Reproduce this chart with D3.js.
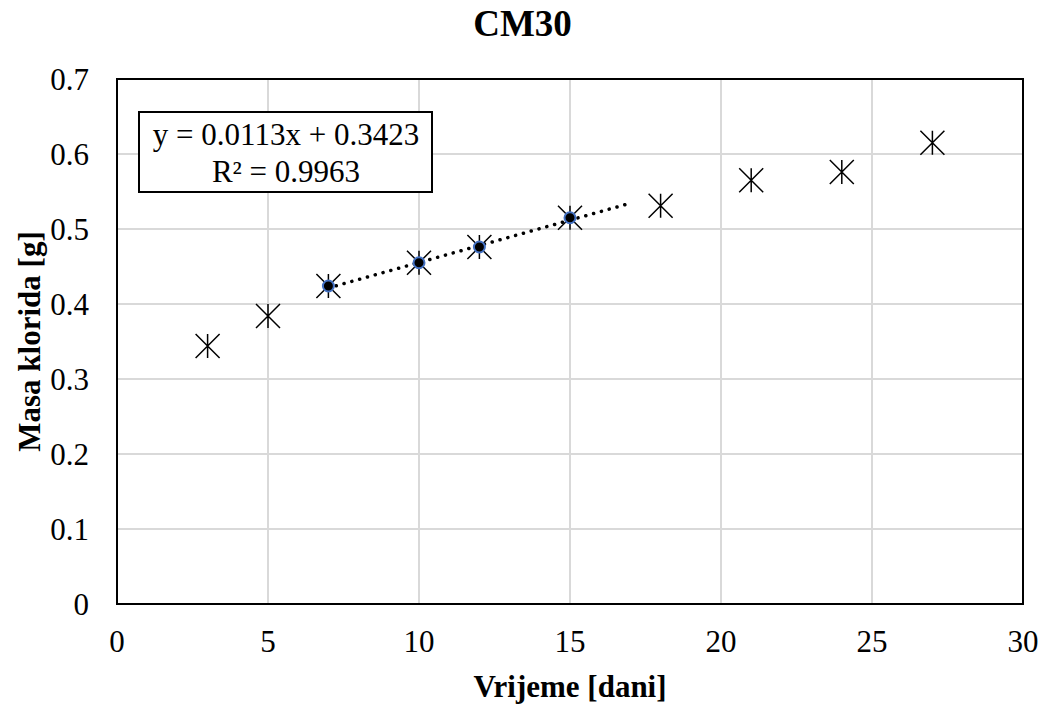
<!DOCTYPE html>
<html>
<head>
<meta charset="utf-8">
<script src="https://cdn.jsdelivr.net/npm/d3@7"></script>
<style>
  body { margin: 0; background: #fff; }
  text { font-family: "Liberation Serif", "Times New Roman", serif; fill: #000; }
</style>
</head>
<body>
<div id="chart"></div>
<script>
// measured data
const days = [3, 5, 7, 10, 12, 15, 18, 21, 24, 27];
const mass = [0.344, 0.384, 0.424, 0.455, 0.476, 0.515, 0.531, 0.565, 0.576, 0.615];
// subset used for the linear fit
const fitDays = [7, 10, 12, 15];
const fitMass = [0.424, 0.455, 0.476, 0.515];
const slope = 0.0113, intercept = 0.3423;
const trendRange = [7, 16.9];
const xTicks = [0, 5, 10, 15, 20, 25, 30];
const yTicks = [0, 0.1, 0.2, 0.3, 0.4, 0.5, 0.6, 0.7];

const width = 1045, height = 708;
const plot = { left: 117, right: 1023, top: 79, bottom: 604 };

const svg = d3.select('#chart').append('svg')
    .attr('width', width)
    .attr('height', height);

const x = d3.scaleLinear().domain([0, 30]).range([plot.left, plot.right]);
const y = d3.scaleLinear().domain([0, 0.7]).range([plot.bottom, plot.top]);

// gridlines
svg.append('g').selectAll('line').data(xTicks.slice(1, -1)).enter().append('line')
    .attr('x1', d => x(d)).attr('x2', d => x(d))
    .attr('y1', plot.top).attr('y2', plot.bottom)
    .attr('stroke', '#d9d9d9').attr('stroke-width', 2);
svg.append('g').selectAll('line').data(yTicks.slice(1, -1)).enter().append('line')
    .attr('x1', plot.left).attr('x2', plot.right)
    .attr('y1', d => y(d)).attr('y2', d => y(d))
    .attr('stroke', '#d9d9d9').attr('stroke-width', 2);

// plot frame
svg.append('rect')
    .attr('x', plot.left).attr('y', plot.top)
    .attr('width', plot.right - plot.left).attr('height', plot.bottom - plot.top)
    .attr('fill', 'none').attr('stroke', '#000').attr('stroke-width', 2);

// tick labels
svg.append('g').selectAll('text').data(xTicks).enter().append('text')
    .attr('x', d => x(d)).attr('y', 652)
    .attr('text-anchor', 'middle')
    .attr('font-size', '31px')
    .text(d => d);
svg.append('g').selectAll('text').data(yTicks).enter().append('text')
    .attr('x', 89).attr('y', d => y(d) + 11)
    .attr('text-anchor', 'end')
    .attr('font-size', '31px')
    .text(d => d === 0 ? '0' : d3.format('.1f')(d));

// title and axis titles
svg.append('text')
    .attr('x', width / 2).attr('y', 36)
    .attr('text-anchor', 'middle')
    .attr('font-size', '37px').attr('font-weight', 'bold')
    .text('CM30');
svg.append('text')
    .attr('x', (plot.left + plot.right) / 2).attr('y', 697)
    .attr('text-anchor', 'middle')
    .attr('font-size', '31px').attr('font-weight', 'bold')
    .text('Vrijeme [dani]');
svg.append('text')
    .attr('transform', 'translate(40,' + ((plot.top + plot.bottom) / 2) + ') rotate(-90)')
    .attr('text-anchor', 'middle')
    .attr('font-size', '31px').attr('font-weight', 'bold')
    .text('Masa klorida [g]');

// trendline (dotted)
svg.append('line')
    .attr('x1', x(trendRange[0])).attr('y1', y(slope * trendRange[0] + intercept))
    .attr('x2', x(trendRange[1])).attr('y2', y(slope * trendRange[1] + intercept))
    .attr('stroke', '#000').attr('stroke-width', 3.5)
    .attr('stroke-linecap', 'round')
    .attr('stroke-dasharray', '0.1 8');

// asterisk markers
const s = 12;
const star = svg.append('g').selectAll('g').data(days).enter().append('g')
    .attr('transform', (d, i) => 'translate(' + x(d) + ',' + y(mass[i]) + ')');
star.append('path')
    .attr('d', 'M' + (-s) + ',' + (-s) + 'L' + s + ',' + s +
               'M' + (-s) + ',' + s + 'L' + s + ',' + (-s) +
               'M0,' + (-s) + 'L0,' + s)
    .attr('stroke', '#000').attr('stroke-width', 1.5).attr('fill', 'none');

// fitted subset markers
svg.append('g').selectAll('circle').data(fitDays).enter().append('circle')
    .attr('cx', d => x(d))
    .attr('cy', (d, i) => y(fitMass[i]))
    .attr('r', 5.5)
    .attr('fill', '#000')
    .attr('stroke', '#4472c4').attr('stroke-width', 2);

// equation box
const box = svg.append('g');
box.append('rect')
    .attr('x', 139).attr('y', 112)
    .attr('width', 293).attr('height', 80)
    .attr('fill', '#fff').attr('stroke', '#000').attr('stroke-width', 2);
box.append('text')
    .attr('x', 286).attr('y', 145)
    .attr('text-anchor', 'middle').attr('font-size', '31px')
    .text('y = 0.0113x + 0.3423');
box.append('text')
    .attr('x', 286).attr('y', 182)
    .attr('text-anchor', 'middle').attr('font-size', '31px')
    .text('R² = 0.9963');
</script>
</body>
</html>
